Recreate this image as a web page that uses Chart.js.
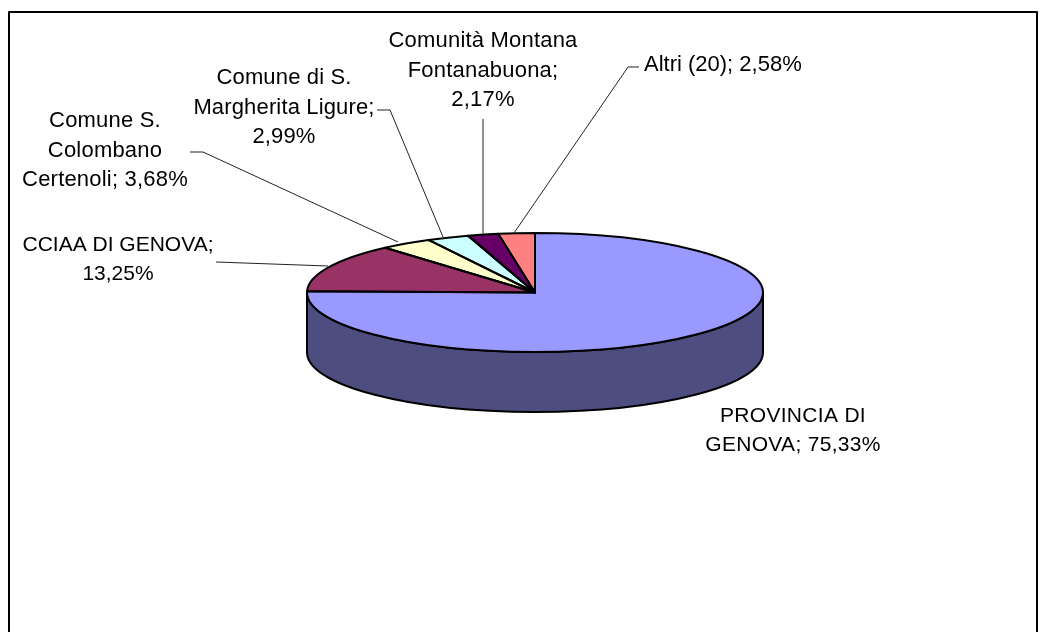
<!DOCTYPE html>
<html>
<head>
<meta charset="utf-8">
<script src="https://cdn.jsdelivr.net/npm/chart.js@4/dist/chart.umd.js"></script>
<style>
  html, body { margin: 0; padding: 0; background: #fff; }
  canvas { display: block; }
</style>
</head>
<body>
<canvas id="pie" width="1047" height="632"></canvas>
<script>
const categories = ['PROVINCIA DI GENOVA', 'CCIAA DI GENOVA', 'Comune S. Colombano Certenoli', 'Comune di S. Margherita Ligure', 'Comunità Montana Fontanabuona', 'Altri (20)']
const shares = [75.33, 13.25, 3.68, 2.99, 2.17, 2.58]
const sliceColors = ['#9999ff', '#993366', '#ffffcc', '#ccffff', '#660066', '#ff8080']
const sideColor = '#4d4d80'

// wrapped the same way as the excel labels
const labelLines = [
    ['PROVINCIA DI', 'GENOVA; 75,33%'],
    ['CCIAA DI GENOVA;', '13,25%'],
    ['Comune S.', 'Colombano', 'Certenoli; 3,68%'],
    ['Comune di S.', 'Margherita Ligure;', '2,99%'],
    ['Comunità Montana', 'Fontanabuona;', '2,17%'],
    ['Altri (20); 2,58%']
]

// label layout: x, y of first line, text alignment, font px, letter spacing
const labelPos = [
    [793, 416, 'center', 21, '0.3px'],
    [118, 245, 'center', 21, '0px'],
    [105, 121, 'center', 22, '0.2px'],
    [284, 78, 'center', 22, '0.15px'],
    [483, 41, 'center', 22, '0.2px'],
    [644, 65, 'left', 22, '0px']
]

const leaders = [
    null,
    [[216, 262], [328, 266]],
    [[190, 152], [203, 152], [398, 242]],
    [[377, 110], [390, 110], [443, 237]],
    [[483, 119], [483, 233]],
    [[639, 67], [628, 67], [514, 233]]
]

const squash = 59.5 / 228
const depth = 60

const pie3d = {
    id: 'pie3d',
    beforeDatasetsDraw(chart) {
        const ctx = chart.ctx
        const arcs = chart.getDatasetMeta(0).data
        ctx.save()
        ctx.lineWidth = 2
        ctx.strokeStyle = '#000'
        // front wall of the disc, only the part of each slice facing down
        arcs.forEach(function (arc) {
            const from = Math.max(arc.startAngle, 0)
            const to = Math.min(arc.endAngle, Math.PI)
            if (to <= from) return
            const r = arc.outerRadius
            const ry = r * squash
            ctx.beginPath()
            ctx.ellipse(arc.x, arc.y, r, ry, 0, from, to)
            ctx.ellipse(arc.x, arc.y + depth, r, ry, 0, to, from, true)
            ctx.closePath()
            ctx.fillStyle = sideColor
            ctx.fill()
            ctx.stroke()
        })
        ctx.restore()
    },
    beforeDatasetDraw(chart) {
        const ctx = chart.ctx
        const arc = chart.getDatasetMeta(0).data[0]
        ctx.save()
        ctx.translate(arc.x, arc.y)
        ctx.scale(1, squash)
        ctx.translate(-arc.x, -arc.y)
    },
    afterDatasetDraw(chart) {
        chart.ctx.restore()
    },
    afterDatasetsDraw(chart) {
        const ctx = chart.ctx
        const arcs = chart.getDatasetMeta(0).data
        ctx.save()
        ctx.lineWidth = 2
        ctx.strokeStyle = '#000'
        ctx.lineJoin = 'round'
        arcs.forEach(function (arc) {
            ctx.beginPath()
            ctx.moveTo(arc.x, arc.y)
            ctx.ellipse(arc.x, arc.y, arc.outerRadius, arc.outerRadius * squash, 0, arc.startAngle, arc.endAngle)
            ctx.closePath()
            ctx.stroke()
        })

        // leader lines
        ctx.lineWidth = 1
        ctx.strokeStyle = '#222'
        leaders.forEach(function (pts) {
            if (!pts) return
            ctx.beginPath()
            pts.forEach(function (p, i) {
                if (i === 0) ctx.moveTo(p[0], p[1])
                else ctx.lineTo(p[0], p[1])
            })
            ctx.stroke()
        })

        // data labels
        ctx.fillStyle = '#000'
        ctx.textBaseline = 'middle'
        labelLines.forEach(function (lines, i) {
            const pos = labelPos[i]
            ctx.font = pos[3] + 'px "Liberation Sans", Arial, sans-serif'
            ctx.textAlign = pos[2]
            ctx.letterSpacing = pos[4]
            lines.forEach(function (line, j) {
                ctx.fillText(line, pos[0], pos[1] + j * 29.7)
            })
        })

        // chart frame, open at the bottom of the picture
        ctx.lineWidth = 2
        ctx.strokeStyle = '#000'
        ctx.beginPath()
        ctx.moveTo(9, 640)
        ctx.lineTo(9, 12)
        ctx.lineTo(1037, 12)
        ctx.lineTo(1037, 640)
        ctx.stroke()
        ctx.restore()
    }
}

new Chart(document.querySelector('#pie'), {
    type: 'pie',
    data: {
        labels: categories,
        datasets: [{
            data: shares,
            backgroundColor: sliceColors,
            borderWidth: 0
        }]
    },
    options: {
        responsive: false,
        animation: false,
        layout: { padding: { left: 307, right: 284, top: 64.5, bottom: 111.5 } },
        plugins: {
            legend: { display: false },
            tooltip: { enabled: false }
        }
    },
    plugins: [pie3d]
})
</script>
</body>
</html>
